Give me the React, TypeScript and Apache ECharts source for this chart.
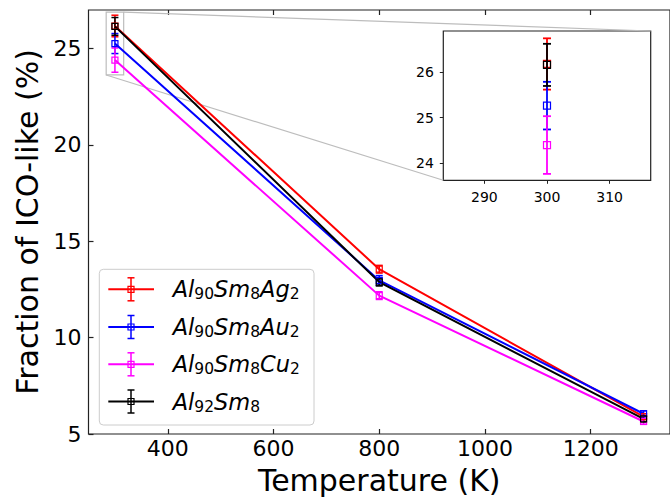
import React, { useEffect, useRef } from "react";
import * as echarts from "echarts";

// ---------- data ----------
const temperatures = [300, 800, 1300];

const agValues = [26.17, 13.55, 5.9];
const agErrors = [0.56, 0.2, 0.15];
const auValues = [25.26, 12.97, 6.05];
const auErrors = [0.52, 0.25, 0.15];
const cuValues = [24.4, 12.18, 5.65];
const cuErrors = [0.63, 0.2, 0.15];
const al92Values = [26.15, 12.88, 5.78];
const al92Errors = [0.46, 0.2, 0.15];

const seriesNames = ["Al90Sm8Ag2", "Al90Sm8Au2", "Al90Sm8Cu2", "Al92Sm8"];
// legend label parts: [element, subscript]
const legendParts = [
  [["Al", "90"], ["Sm", "8"], ["Ag", "2"]],
  [["Al", "90"], ["Sm", "8"], ["Au", "2"]],
  [["Al", "90"], ["Sm", "8"], ["Cu", "2"]],
  [["Al", "92"], ["Sm", "8"]],
];
const seriesColors = ["#ff0000", "#0000ff", "#ff00ff", "#000000"];
const allValues = [agValues, auValues, cuValues, al92Values];
const allErrors = [agErrors, auErrors, cuErrors, al92Errors];

const mainXTicks = [400, 600, 800, 1000, 1200];
const mainYTicks = [5, 10, 15, 20, 25];
const insetXTicks = [290, 300, 310];
const insetYTicks = [24, 25, 26];

const mainXRange = [250, 1350];
const mainYRange = [5, 27];
const insetXRange = [283.45, 316.55];
const insetYRange = [23.63, 26.89];

const xTitle = "Temperature (K)";
const yTitle = "Fraction of ICO-like (%)";

const FONT = "DejaVu Sans";
const AXIS_COLOR = "#222";

function errorRender(color: string, cap: number, lw: number, marker: number) {
  return (params: any, api: any) => {
    const x = api.value(0);
    const y = api.value(1);
    const e = api.value(2);
    const top = api.coord([x, y + e]);
    const bot = api.coord([x, y - e]);
    const mid = api.coord([x, y]);
    const children: any[] = [
      { type: "line", shape: { x1: top[0], y1: top[1], x2: bot[0], y2: bot[1] }, style: { stroke: color, lineWidth: lw } },
      { type: "line", shape: { x1: top[0] - cap / 2, y1: top[1], x2: top[0] + cap / 2, y2: top[1] }, style: { stroke: color, lineWidth: lw } },
      { type: "line", shape: { x1: bot[0] - cap / 2, y1: bot[1], x2: bot[0] + cap / 2, y2: bot[1] }, style: { stroke: color, lineWidth: lw } },
    ];
    if (marker > 0) {
      children.push({
        type: "rect",
        shape: { x: mid[0] - marker / 2, y: mid[1] - marker / 2, width: marker, height: marker },
        style: { fill: "none", stroke: color, lineWidth: 1.2 },
      });
    }
    return { type: "group", children };
  };
}

function richLabel(parts: string[][]) {
  return parts.map((p) => `{i|${p[0]}}{s|${p[1]}}`).join("");
}

const plain = (v: number) => String(v);

export default function App() {
  const ref = useRef<HTMLDivElement>(null);

  useEffect(() => {
    if (!ref.current) return;
    const chart = echarts.init(ref.current, null, { renderer: "svg" });

    const series: any[] = [];
    seriesNames.forEach((name, i) => {
      const color = seriesColors[i];
      series.push({
        type: "custom",
        name: name + "-err",
        xAxisIndex: 0,
        yAxisIndex: 0,
        encode: { x: 0, y: 1 },
        data: temperatures.map((t, j) => [t, allValues[i][j], allErrors[i][j]]),
        renderItem: errorRender(color, 7, 1.5, 0),
        silent: true,
      });
      series.push({
        type: "line",
        name,
        xAxisIndex: 0,
        yAxisIndex: 0,
        data: temperatures.map((t, j) => [t, allValues[i][j]]),
        symbol: "rect",
        symbolSize: 6,
        showSymbol: true,
        lineStyle: { color, width: 2 },
        itemStyle: { color: "rgba(0,0,0,0)", borderColor: color, borderWidth: 1.2 },
        silent: true,
      });
    });
    // inset: only the 300 K points
    seriesNames.forEach((name, i) => {
      const color = seriesColors[i];
      series.push({
        type: "custom",
        name: name + "-inset",
        xAxisIndex: 2,
        yAxisIndex: 1,
        z: 6,
        encode: { x: 0, y: 1 },
        data: [[temperatures[0], allValues[i][0], allErrors[i][0]]],
        renderItem: errorRender(color, 8, 1.8, 7),
        silent: true,
      });
    });

    const tickLabel = { fontFamily: FONT, color: "#000", formatter: plain };

    chart.setOption({
      animation: false,
      backgroundColor: "#fff",
      grid: [
        { left: 88.5, top: 10, width: 591.5, height: 426, show: true, borderColor: AXIS_COLOR, borderWidth: 1.2, backgroundColor: "rgba(0,0,0,0)" },
        { left: 443.3, top: 31, width: 207.4, height: 149.3, show: true, borderColor: AXIS_COLOR, borderWidth: 1.2, backgroundColor: "#fff" },
      ],
      xAxis: [
        {
          type: "value", gridIndex: 0, position: "bottom", min: mainXRange[0], max: mainXRange[1],
          axisLine: { show: false }, splitLine: { show: false },
          axisTick: { show: true, inside: true, length: 5, customValues: mainXTicks, lineStyle: { color: AXIS_COLOR, width: 1.2 } },
          axisLabel: { customValues: mainXTicks, fontSize: 22, margin: 3, ...tickLabel },
          name: xTitle, nameLocation: "middle", nameGap: 31,
          nameTextStyle: { fontSize: 30, fontFamily: FONT, color: "#000" },
        },
        {
          type: "value", gridIndex: 0, position: "top", min: mainXRange[0], max: mainXRange[1],
          axisLine: { show: false }, splitLine: { show: false },
          axisTick: { show: true, inside: true, length: 5, customValues: mainXTicks, lineStyle: { color: AXIS_COLOR, width: 1.2 } },
          axisLabel: { show: false },
        },
        {
          type: "value", gridIndex: 1, position: "bottom", min: insetXRange[0], max: insetXRange[1],
          axisLine: { show: false }, splitLine: { show: false },
          axisTick: { show: true, inside: false, length: 3.5, customValues: insetXTicks, lineStyle: { color: AXIS_COLOR, width: 1 } },
          axisLabel: { customValues: insetXTicks, fontSize: 14, margin: 9.5, ...tickLabel },
        },
      ],
      yAxis: [
        {
          type: "value", gridIndex: 0, min: mainYRange[0], max: mainYRange[1],
          axisLine: { show: false }, splitLine: { show: false },
          axisTick: { show: true, inside: true, length: 5, customValues: mainYTicks, lineStyle: { color: AXIS_COLOR, width: 1.2 } },
          axisLabel: { customValues: mainYTicks, fontSize: 22, margin: 7, ...tickLabel },
          name: yTitle, nameLocation: "middle", nameGap: 44, nameRotate: 90,
          nameTextStyle: { fontSize: 30, fontFamily: FONT, color: "#000" },
        },
        {
          type: "value", gridIndex: 1, min: insetYRange[0], max: insetYRange[1],
          axisLine: { show: false }, splitLine: { show: false },
          axisTick: { show: true, inside: false, length: 3.5, customValues: insetYTicks, lineStyle: { color: AXIS_COLOR, width: 1 } },
          axisLabel: { customValues: insetYTicks, fontSize: 14, margin: 9.5, ...tickLabel },
        },
      ],
      series,
    });

    // zoom rectangle and connectors, located through the axes' scales
    const rTL = chart.convertToPixel({ xAxisIndex: 0, yAxisIndex: 0 } as any, [insetXRange[0], insetYRange[1]]) as number[];
    const rBR = chart.convertToPixel({ xAxisIndex: 0, yAxisIndex: 0 } as any, [insetXRange[1], insetYRange[0]]) as number[];
    const iTR = chart.convertToPixel({ xAxisIndex: 2, yAxisIndex: 1 } as any, [insetXRange[1], insetYRange[1]]) as number[];
    const iBL = chart.convertToPixel({ xAxisIndex: 2, yAxisIndex: 1 } as any, [insetXRange[0], insetYRange[0]]) as number[];

    const gray = "#bdbdbd";
    const graphics: any[] = [
      { type: "rect", z: 3, silent: true, shape: { x: rTL[0], y: rTL[1], width: rBR[0] - rTL[0], height: rBR[1] - rTL[1] }, style: { fill: "none", stroke: gray, lineWidth: 1.2 } },
      { type: "line", z: 3, silent: true, shape: { x1: rBR[0], y1: rTL[1], x2: iTR[0], y2: iTR[1] }, style: { stroke: gray, lineWidth: 1.2 } },
      { type: "line", z: 3, silent: true, shape: { x1: rTL[0], y1: rBR[1], x2: iBL[0], y2: iBL[1] }, style: { stroke: gray, lineWidth: 1.2 } },
    ];

    // legend
    const lgX = 99.3, lgY = 269.3, lgW = 214.7, lgH = 155.7;
    const legendChildren: any[] = [
      { type: "rect", shape: { x: lgX, y: lgY, width: lgW, height: lgH, r: 4 }, style: { fill: "rgba(255,255,255,0.8)", stroke: "#cccccc", lineWidth: 1 } },
    ];
    const rowY = [289.3, 327, 364.3, 401.5];
    seriesNames.forEach((_, i) => {
      const c = seriesColors[i];
      const y = rowY[i];
      const cx = 131;
      legendChildren.push(
        { type: "line", shape: { x1: 108.3, y1: y, x2: 154, y2: y }, style: { stroke: c, lineWidth: 2 } },
        { type: "line", shape: { x1: cx, y1: y - 11.5, x2: cx, y2: y + 11.5 }, style: { stroke: c, lineWidth: 1.5 } },
        { type: "line", shape: { x1: cx - 3.5, y1: y - 11.5, x2: cx + 3.5, y2: y - 11.5 }, style: { stroke: c, lineWidth: 1.5 } },
        { type: "line", shape: { x1: cx - 3.5, y1: y + 11.5, x2: cx + 3.5, y2: y + 11.5 }, style: { stroke: c, lineWidth: 1.5 } },
        { type: "rect", shape: { x: cx - 3, y: y - 3, width: 6, height: 6 }, style: { fill: "none", stroke: c, lineWidth: 1.2 } },
        {
          type: "text", x: 172.7, y,
          style: {
            text: richLabel(legendParts[i]),
            verticalAlign: "middle",
            align: "left",
            rich: {
              i: { fontSize: 22.5, fontStyle: "italic", fontFamily: FONT, lineHeight: 26, fill: "#000" },
              s: { fontSize: 15.5, fontFamily: FONT, lineHeight: 18, verticalAlign: "bottom", fill: "#000" },
            },
          },
        }
      );
    });
    graphics.push({ type: "group", z: 10, silent: true, children: legendChildren });

    chart.setOption({ graphic: graphics });

    return () => chart.dispose();
  }, []);

  return <div ref={ref} style={{ position: "fixed", left: 0, top: 0, width: 670, height: 500 }} />;
}
